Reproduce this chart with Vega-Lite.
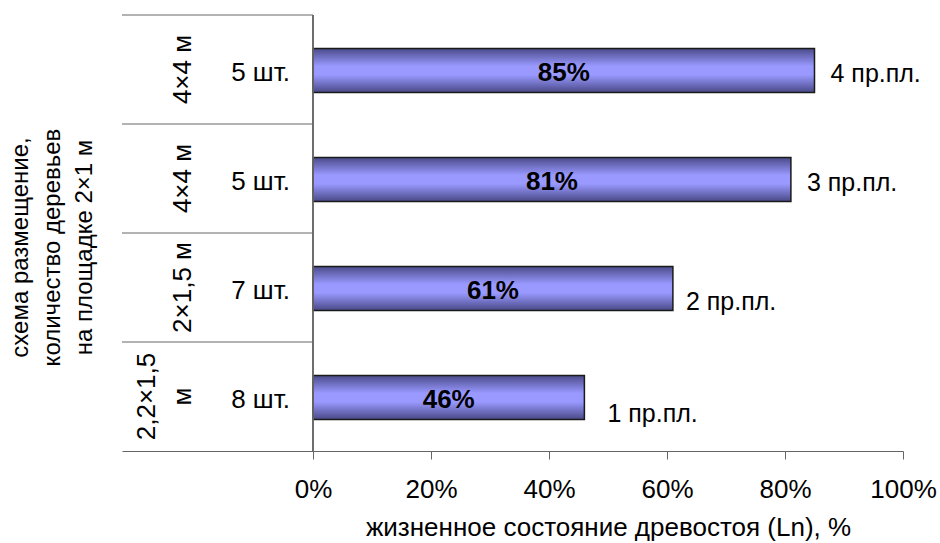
{
  "$schema": "https://vega.github.io/schema/vega-lite/v6.json",
  "width": 781,
  "height": 436,
  "autosize": {"type": "none"},
  "padding": {"left": 122, "top": 15, "right": 37, "bottom": 92},
  "background": "white",
  "config": {
    "font": "Liberation Sans",
    "view": {"stroke": null},
    "text": {"fontSize": 25, "color": "black"}
  },
  "data": {
    "values": [
      {"row": "4", "value": 0.85, "count": "5 шт.", "scheme": "4×4 м", "plot": "4 пр.пл."},
      {"row": "3", "value": 0.81, "count": "5 шт.", "scheme": "4×4 м", "plot": "3 пр.пл."},
      {"row": "2", "value": 0.61, "count": "7 шт.", "scheme": "2×1,5 м", "plot": "2 пр.пл."},
      {"row": "1", "value": 0.46, "count": "8 шт.", "scheme": "2,2×1,5\nм", "plot": "1 пр.пл."}
    ]
  },
  "encoding": {
    "y": {
      "field": "row", "type": "nominal",
      "scale": {"domain": ["4", "3", "2", "1"], "paddingInner": 0, "paddingOuter": 0},
      "axis": {
        "labels": false,
        "ticks": false,
        "domain": false,
        "grid": false,
        "title": ["схема размещение,", "количество деревьев", "на площадке 2×1 м"],
        "titleFontSize": 24,
        "titleFontWeight": "normal",
        "titleColor": "black",
        "titleAngle": 270,
        "titleX": -102,
        "titleY": 232,
        "titleAlign": "center",
        "titleBaseline": "middle",
        "titleLineHeight": 32
      }
    }
  },
  "layer": [
    {
      "mark": {
        "type": "bar",
        "height": {"band": 0.405},
        "yOffset": 1,
        "stroke": "#1a1a1a",
        "strokeWidth": 1.5,
        "color": {
          "gradient": "linear",
          "x1": 0, "y1": 0, "x2": 0, "y2": 1,
          "stops": [
            {"offset": 0, "color": "#4a4a8a"},
            {"offset": 0.4, "color": "#9999ff"},
            {"offset": 0.6, "color": "#9999ff"},
            {"offset": 1, "color": "#484886"}
          ]
        }
      },
      "encoding": {
        "x": {
          "field": "value", "type": "quantitative",
          "scale": {"domain": [-0.3237, 1], "nice": false, "zero": false},
          "axis": {
            "values": [0, 0.2, 0.4, 0.6, 0.8, 1],
            "format": ".0%",
            "grid": false,
            "labelFontSize": 26,
            "labelColor": "black",
            "labelPadding": 17,
            "labelFlush": false,
            "tickSize": 8,
            "tickColor": "#666666",
            "domainColor": "#666666",
            "title": "жизненное состояние древостоя (Ln), %",
            "titleFontSize": 26,
            "titleFontWeight": "normal",
            "titleColor": "black",
            "titleX": 486,
            "titleY": 84,
            "titleAlign": "center",
            "titleBaseline": "alphabetic"
          }
        }
      }
    },
    {
      "mark": {"type": "rule", "color": "#666666", "strokeWidth": 1},
      "encoding": {
        "y": null,
        "x": {"datum": 0, "type": "quantitative"}
      }
    },
    {
      "mark": {"type": "rule", "color": "#666666", "strokeWidth": 1},
      "encoding": {
        "y": {"field": "row", "type": "nominal", "bandPosition": 0},
        "x": {"datum": -0.3237, "type": "quantitative"},
        "x2": {"datum": 0}
      }
    },
    {
      "mark": {"type": "text", "align": "right", "baseline": "middle", "dx": -23, "dy": 3, "fontSize": 26},
      "encoding": {
        "x": {"datum": 0, "type": "quantitative"},
        "text": {"field": "count", "type": "nominal"}
      }
    },
    {
      "transform": [{"filter": "datum.row != '1'"}],
      "mark": {"type": "text", "angle": 270, "align": "center", "baseline": "bottom", "lineBreak": "\n", "lineHeight": 36, "fontSize": 26},
      "encoding": {
        "x": {"datum": -0.1983, "type": "quantitative"},
        "text": {"field": "scheme", "type": "nominal"}
      }
    },
    {
      "transform": [{"filter": "datum.row == '1'"}],
      "mark": {"type": "text", "angle": 270, "align": "center", "baseline": "bottom", "lineBreak": "\n", "lineHeight": 36, "fontSize": 26},
      "encoding": {
        "x": {"datum": -0.2593, "type": "quantitative"},
        "text": {"field": "scheme", "type": "nominal"}
      }
    },
    {
      "mark": {"type": "text", "align": "center", "baseline": "middle", "dy": 3, "fontSize": 26, "fontWeight": "bold"},
      "encoding": {
        "x": {"datum": 0, "type": "quantitative"},
        "xOffset": {"field": "value", "type": "quantitative", "scale": {"domain": [0, 1], "range": [0, 295]}},
        "text": {"field": "value", "type": "quantitative", "format": ".0%"}
      }
    },
    {
      "transform": [{"filter": "datum.row == '4' || datum.row == '3'"}],
      "mark": {"type": "text", "align": "left", "baseline": "middle", "dx": 16, "dy": 4, "fontSize": 25},
      "encoding": {
        "x": {"field": "value", "type": "quantitative"},
        "text": {"field": "plot", "type": "nominal"}
      }
    },
    {
      "transform": [{"filter": "datum.row == '2'"}],
      "mark": {"type": "text", "align": "left", "baseline": "middle", "dx": 13, "dy": 14, "fontSize": 25},
      "encoding": {
        "x": {"field": "value", "type": "quantitative"},
        "text": {"field": "plot", "type": "nominal"}
      }
    },
    {
      "transform": [{"filter": "datum.row == '1'"}],
      "mark": {"type": "text", "align": "left", "baseline": "middle", "dx": 23, "dy": 17, "fontSize": 25},
      "encoding": {
        "x": {"field": "value", "type": "quantitative"},
        "text": {"field": "plot", "type": "nominal"}
      }
    }
  ]
}
